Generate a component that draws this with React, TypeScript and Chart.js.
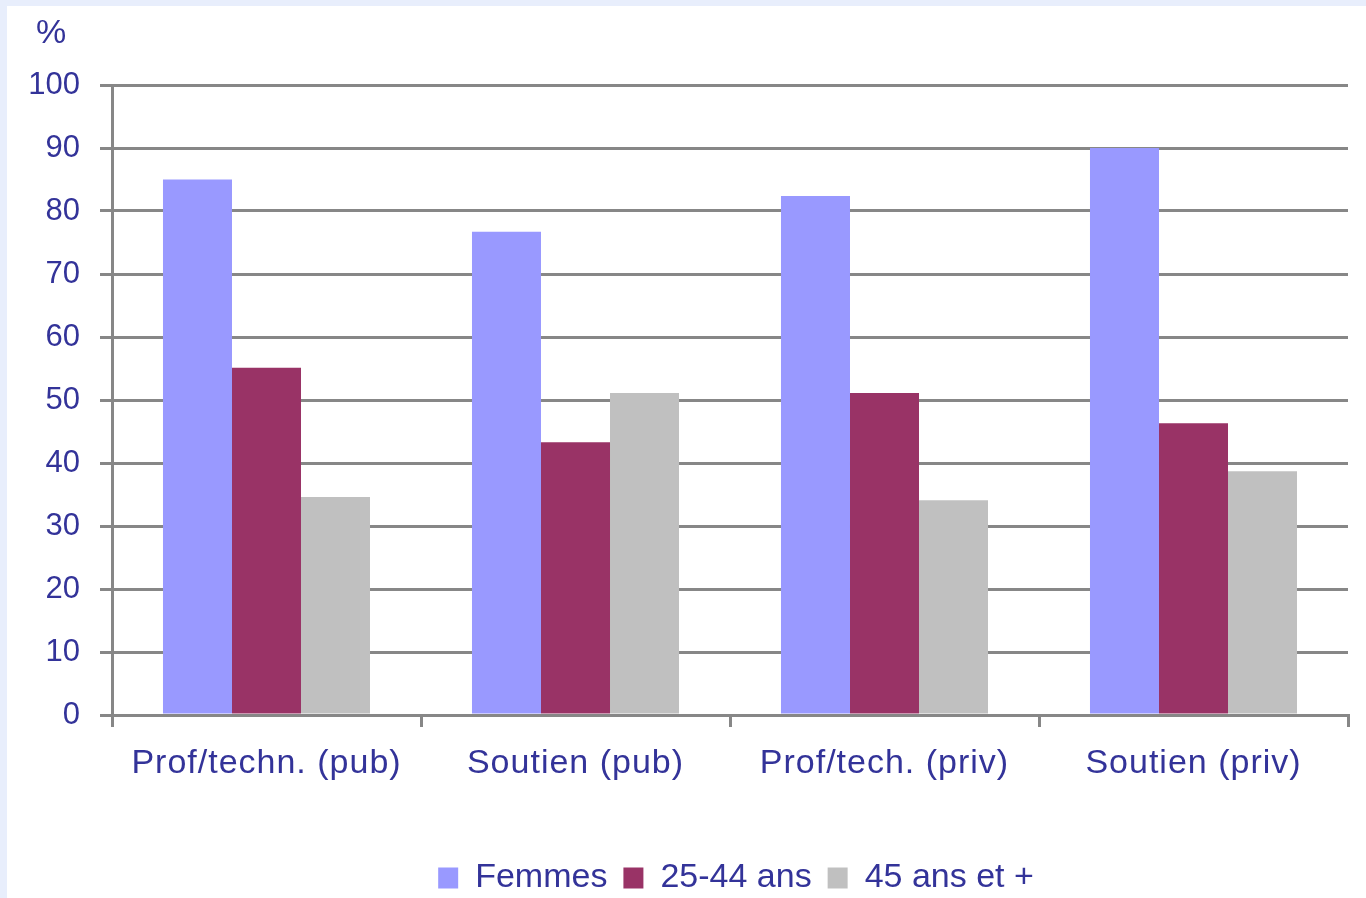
import React, { useEffect, useRef } from "react";
import { Chart, registerables } from "chart.js";

Chart.register(...registerables);

const categories = ["Prof/techn. (pub)", "Soutien (pub)", "Prof/tech. (priv)", "Soutien (priv)"];
const femmes = [85, 76.7, 82.4, 90];
const age2544 = [55.1, 43.3, 51.1, 46.3];
const age45plus = [34.6, 51.1, 34.1, 38.7];
const seriesLabels = ["Femmes", "25-44 ans", "45 ans et +"];
const yMin = 0;
const yMax = 100;
const yStep = 10;
const unitLabel = "%";

const TEXT = "#333399";
const GRID = "#878787";
const FONT = "'Liberation Sans', Arial, sans-serif";

export default function App() {
  const ref = useRef<HTMLCanvasElement | null>(null);

  useEffect(() => {
    if (!ref.current) return;
    const bgPlugin = {
      id: "bg",
      beforeDraw(chart: any) {
        const { ctx, width, height } = chart;
        ctx.save();
        ctx.fillStyle = "#E8EEFC";
        ctx.fillRect(0, 0, width, height);
        ctx.fillStyle = "#FFFFFF";
        ctx.fillRect(7, 6, width - 7, height - 6);
        ctx.restore();
      },
      afterLayout(chart: any) {
        const lg = chart.legend;
        if (lg) {
          lg.left += 62;
          lg.right += 62;
        }
      },
      afterDatasetsDraw(chart: any) {
        (chart.ctx as any).letterSpacing = "1px";
      },
      afterDraw(chart: any) {
        const { ctx } = chart;
        (ctx as any).letterSpacing = "0px";
        ctx.save();
        ctx.fillStyle = TEXT;
        ctx.font = `34px ${FONT}`;
        ctx.textAlign = "center";
        ctx.textBaseline = "middle";
        ctx.fillText(unitLabel, 51, 34);
        ctx.restore();
      },
    };

    const chart = new Chart(ref.current, {
      type: "bar",
      data: {
        labels: categories,
        datasets: [
          { label: seriesLabels[0], data: femmes, backgroundColor: "#9999FF" },
          { label: seriesLabels[1], data: age2544, backgroundColor: "#993366" },
          { label: seriesLabels[2], data: age45plus, backgroundColor: "#C0C0C0" },
        ],
      },
      options: {
        animation: false,
        responsive: false,
        maintainAspectRatio: false,
        layout: { padding: { top: 85, right: 18, bottom: -7, left: 0 } },
        datasets: {
          bar: { categoryPercentage: 0.67, barPercentage: 1.0 },
        },
        plugins: {
          legend: {
            position: "bottom",
            labels: {
              color: TEXT,
              font: { family: FONT, size: 34 },
              boxWidth: 20,
              boxHeight: 21,
              padding: 16,
            },
          },
          tooltip: { enabled: false },
          title: { display: false },
        },
        scales: {
          x: {
            grid: {
              display: true,
              drawOnChartArea: false,
              drawTicks: true,
              tickLength: 12,
              color: GRID,
              lineWidth: 3,
              offset: true,
            },
            border: { display: true, color: GRID, width: 3 },
            ticks: {
              color: TEXT,
              font: { family: FONT, size: 34 },
              padding: 16,
              maxRotation: 0,
              z: 2,
            },
            afterFit(scale: any) {
              scale.height = 130;
            },
          },
          y: {
            min: yMin,
            max: yMax,
            ticks: {
              stepSize: yStep,
              color: TEXT,
              font: { family: FONT, size: 31 },
              padding: 20,
            },
            grid: {
              color: GRID,
              lineWidth: 3,
              tickLength: 12,
              drawTicks: true,
            },
            border: { display: true, color: GRID, width: 3 },
            afterFit(scale: any) {
              scale.width = 112;
            },
          },
        },
      },
      plugins: [bgPlugin],
    });
    return () => chart.destroy();
  }, []);

  return (
    <div style={{ position: "fixed", left: 0, top: 0, width: 1366, height: 898 }}>
      <canvas ref={ref} width={1366} height={898} style={{ display: "block", width: 1366, height: 898 }} />
    </div>
  );
}
